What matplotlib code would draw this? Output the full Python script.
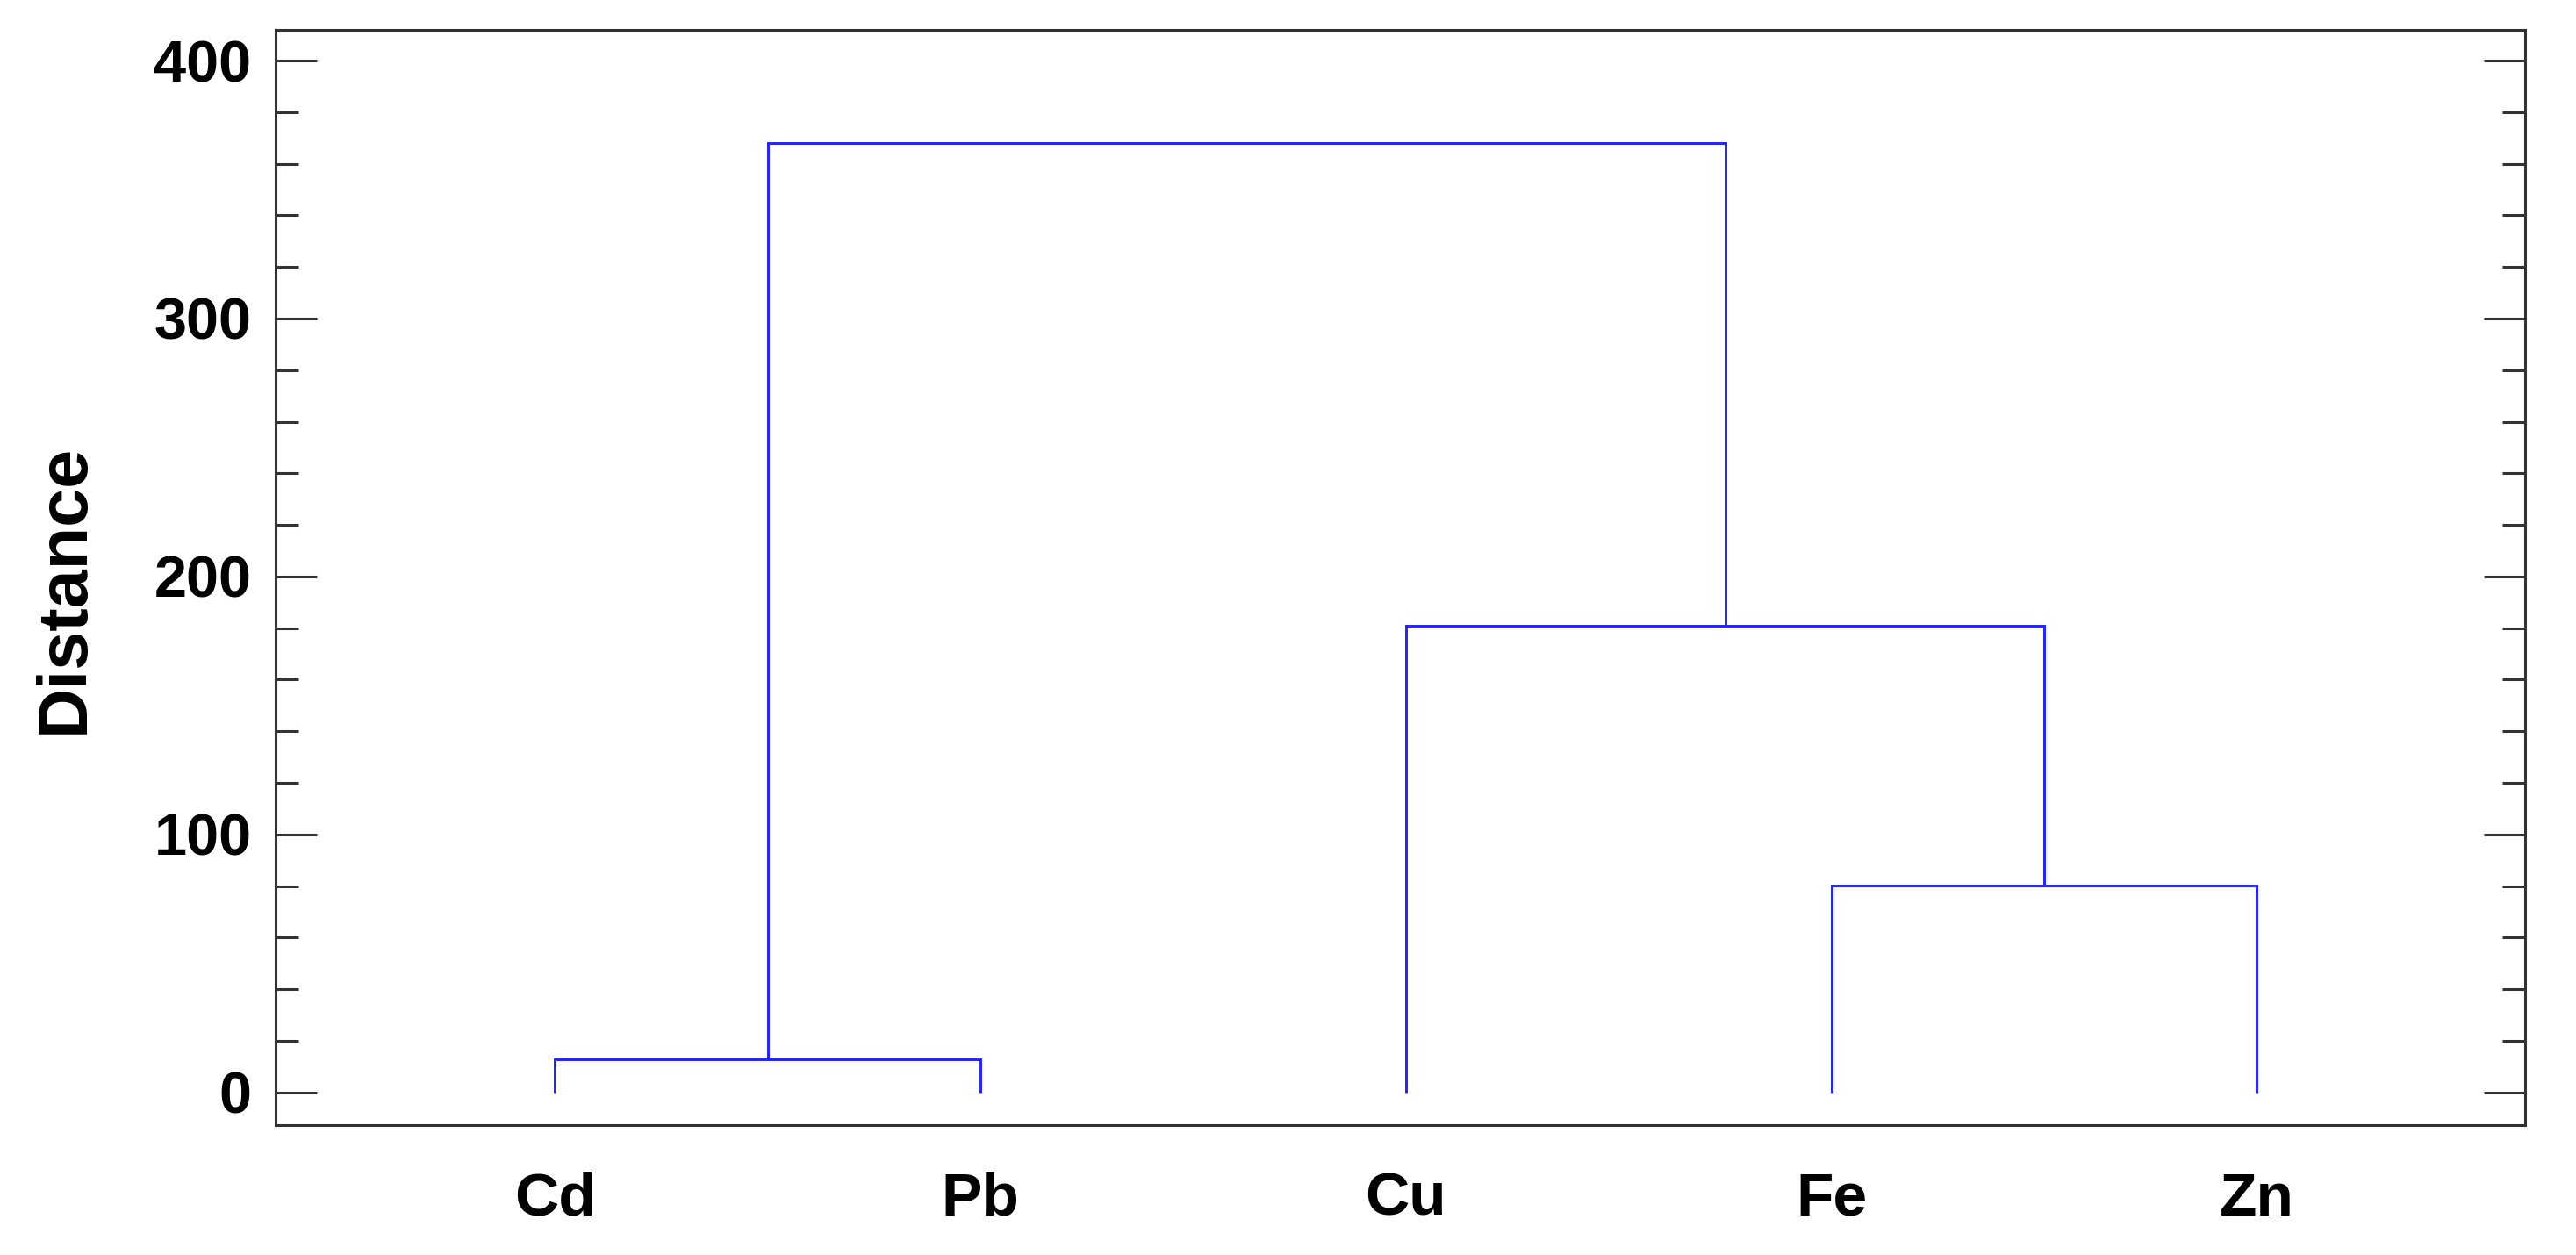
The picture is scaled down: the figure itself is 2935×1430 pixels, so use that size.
import numpy as np
import matplotlib.pyplot as plt
from matplotlib.ticker import MultipleLocator

# leaves in dendrogram order
labels = ['Cd', 'Pb', 'Cu', 'Fe', 'Zn']

# merges: (left node, right node, distance); nodes 0-4 are leaves, 5+ are clusters
merge_a = [0, 3, 2, 5]
merge_b = [1, 4, 6, 7]
merge_dist = [12.7, 80.3, 181.0, 368.0]

plt.rcParams['font.family'] = ['Liberation Sans', 'DejaVu Sans']
plt.rcParams['font.weight'] = 'bold'

fig = plt.figure(figsize=(29.35, 14.3), dpi=100)
ax = fig.add_axes([0.1071, 0.1034, 0.8731, 0.873])

# node coordinates
node_x = list(np.arange(1, len(labels) + 1, dtype=float))
node_y = [0.0] * len(labels)

line_color = '#2020ff'
for a, b, d in zip(merge_a, merge_b, merge_dist):
    xa, ya = node_x[a], node_y[a]
    xb, yb = node_x[b], node_y[b]
    ax.plot([xa, xa, xb, xb], [ya, d, d, yb], color=line_color, lw=2.1,
            solid_joinstyle='miter', solid_capstyle='butt')
    node_x.append((xa + xb) / 2)
    node_y.append(d)

ax.set_xlim(0.344, 5.63)
ax.set_ylim(-12.7, 412)

ax.set_xticks(np.arange(1, len(labels) + 1))
ax.set_xticklabels(labels)
ax.tick_params(axis='x', length=0, pad=38, labelsize=50)

ax.yaxis.set_major_locator(MultipleLocator(100))
ax.yaxis.set_minor_locator(MultipleLocator(20))
ax.tick_params(axis='y', which='major', direction='in', left=True, right=True,
               length=34, width=2.2, color='#333333', labelsize=48, pad=20)
ax.tick_params(axis='y', which='minor', direction='in', left=True, right=True,
               length=19, width=2.2, color='#333333')

for s in ax.spines.values():
    s.set_linewidth(2.2)
    s.set_color('#333333')

ax.set_ylabel('Distance', fontsize=57, fontweight='bold')
ax.yaxis.set_label_coords(-0.079, 0.49)

fig.savefig('out.png', dpi=100)
